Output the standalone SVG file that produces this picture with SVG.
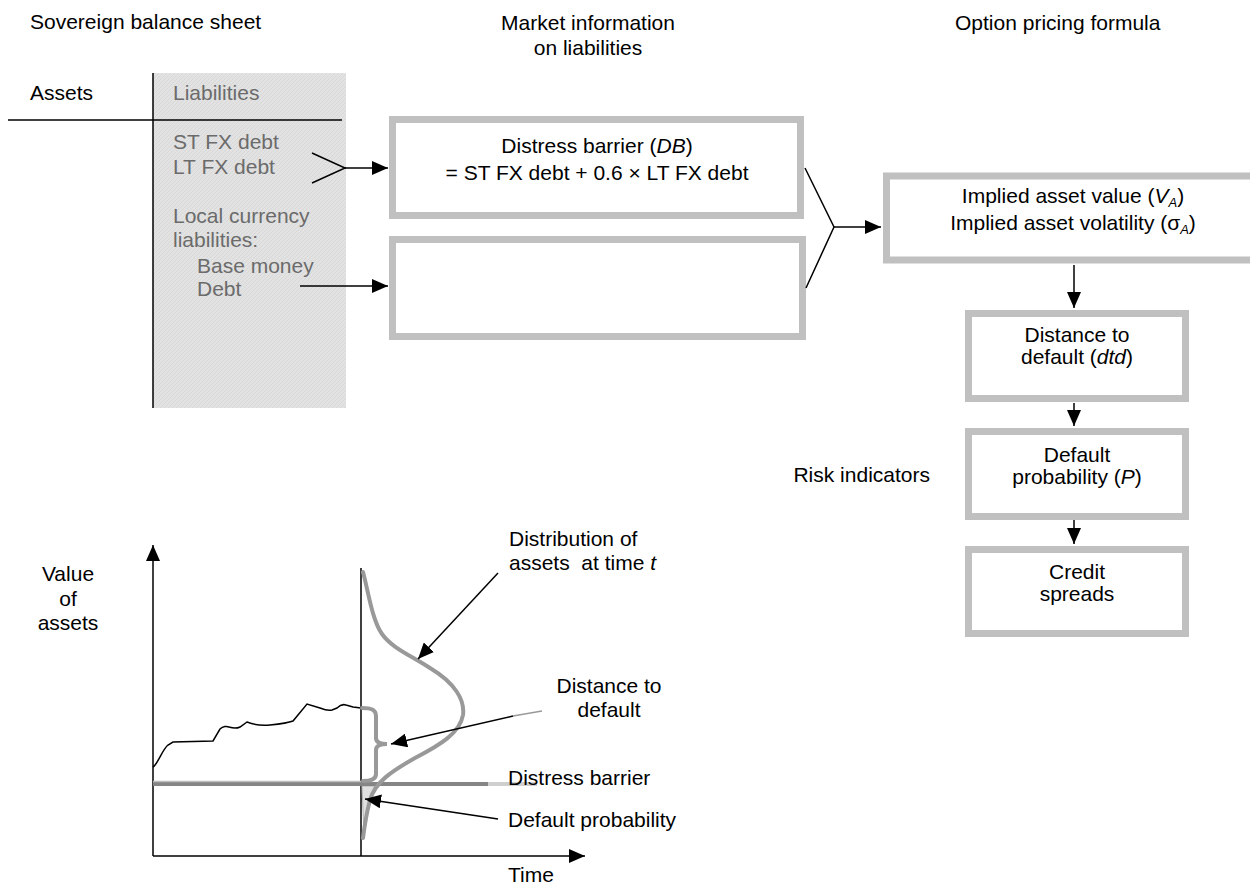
<svg xmlns="http://www.w3.org/2000/svg" width="1250" height="884" viewBox="0 0 1250 884">
<defs>
<style>
text{font-family:"Liberation Sans",Arial,sans-serif;font-size:21px;fill:#000}
.g{fill:#6b6b6b}
.c{text-anchor:middle}
.box{fill:#fff;stroke:#c0c0c0;stroke-width:7}
.ln{fill:none;stroke:#000;stroke-width:1.5}
.arr{fill:none;stroke:#000;stroke-width:1.5;marker-end:url(#ah)}
.gr{fill:none;stroke:#999;stroke-width:4;stroke-linecap:round}
</style>
<marker id="ah" markerUnits="userSpaceOnUse" markerWidth="16" markerHeight="14" refX="16" refY="7" orient="auto"><path d="M0,0 L16,7 L0,14 z" fill="#000"/></marker>
<pattern id="hatch" width="4" height="4" patternUnits="userSpaceOnUse"><rect width="4" height="4" fill="#e2e2e2"/><path d="M0,4 L4,0" stroke="#d8d8d8" stroke-width="1"/></pattern>
</defs>

<g id="titles">
<text x="30" y="29">Sovereign balance sheet</text>
<text class="c" x="588" y="30">Market information</text>
<text class="c" x="588" y="55">on liabilities</text>
<text x="955" y="30">Option pricing formula</text>
<text x="930" y="482" text-anchor="end">Risk indicators</text>
</g>

<g id="balance-sheet">
<rect x="153" y="73" width="193" height="335" fill="url(#hatch)"/>
<line x1="153" y1="73" x2="153" y2="408" stroke="#000" stroke-width="1.5"/>
<line x1="8" y1="120" x2="342" y2="120" stroke="#000" stroke-width="1.5"/>
<text x="30" y="100">Assets</text>
<text class="g" x="173" y="100">Liabilities</text>
<text class="g" x="173" y="149">ST FX debt</text>
<text class="g" x="173" y="174">LT FX debt</text>
<text class="g" x="173" y="223">Local currency</text>
<text class="g" x="173" y="247">liabilities:</text>
<text class="g" x="197" y="273">Base money</text>
<text class="g" x="197" y="296">Debt</text>
</g>

<g id="node-db">
<rect class="box" x="392.5" y="119.5" width="408" height="96"/>
<text class="c" x="597" y="153">Distress barrier (<tspan font-style="italic">DB</tspan>)</text>
<text class="c" x="597" y="180">= ST FX debt + 0.6 × LT FX debt</text>
</g>
<g id="node-empty">
<rect class="box" x="392.5" y="239.5" width="410" height="97"/>
</g>
<g id="node-implied">
<rect class="box" x="886.5" y="176" width="390" height="84"/>
<text class="c" x="1073" y="203">Implied asset value (<tspan font-style="italic">V</tspan><tspan font-style="italic" font-size="13" dy="4">A</tspan><tspan dy="-4">)</tspan></text>
<text class="c" x="1073" y="230">Implied asset volatility (σ<tspan font-style="italic" font-size="13" dy="4">A</tspan><tspan dy="-4">)</tspan></text>
</g>
<g id="node-dtd">
<rect class="box" x="968.5" y="313.5" width="217" height="85"/>
<text class="c" x="1077" y="342">Distance to</text>
<text class="c" x="1077" y="364">default (<tspan font-style="italic">dtd</tspan>)</text>
</g>
<g id="node-p">
<rect class="box" x="968.5" y="431.5" width="217" height="85"/>
<text class="c" x="1077" y="462">Default</text>
<text class="c" x="1077" y="484">probability (<tspan font-style="italic">P</tspan>)</text>
</g>
<g id="node-cs">
<rect class="box" x="968.5" y="549.5" width="217" height="84"/>
<text class="c" x="1077" y="579">Credit</text>
<text class="c" x="1077" y="601">spreads</text>
</g>

<g id="connectors">
<polyline class="ln" points="312,153 345,168 312,183"/>
<line class="arr" x1="345" y1="168" x2="388" y2="168"/>
<line class="arr" x1="300" y1="286" x2="388" y2="286"/>
<polyline class="ln" points="805,168 834,227 806,288"/>
<line class="arr" x1="834" y1="227" x2="881" y2="227"/>
<line class="arr" x1="1074" y1="265" x2="1074" y2="308"/>
<line class="arr" x1="1074" y1="403" x2="1074" y2="426"/>
<line class="arr" x1="1074" y1="520" x2="1074" y2="544"/>
</g>

<g id="chart">
<text class="c" x="68" y="581">Value</text>
<text class="c" x="68" y="606">of</text>
<text class="c" x="68" y="630">assets</text>
<line class="arr" x1="153" y1="856" x2="153" y2="545"/>
<line class="arr" x1="153" y1="856" x2="585" y2="856"/>
<text x="508" y="882">Time</text>
<line x1="361" y1="568" x2="361" y2="856" stroke="#000" stroke-width="1.5"/>
<polygon points="362,786 376,786 370,800 364,836" fill="#e0e0e0" stroke="#b0b0b0" stroke-width="1"/>
<line x1="153" y1="784" x2="488" y2="784" stroke="#858585" stroke-width="4"/>
<line x1="153" y1="781.5" x2="361" y2="781.5" stroke="#bdbdbd" stroke-width="1.5"/>
<line x1="488" y1="784" x2="537" y2="784" stroke="#cfcfcf" stroke-width="4"/>
<path d="M153,767 C158,764 162,750 168,745 L173,742 L213,741 L220,729 C223,726 227,726 229,727 C232,728 236,729 240,727 L247,722 C252,724 260,726 270,725 C280,724 288,723 293,721 L307,704 L320,708 C325,710 328,711 332,710 L337,708 C340,705 343,704 346,705 L353,707 L361,708" fill="none" stroke="#000" stroke-width="1.5"/>
<path class="gr" d="M363,572 C368,590 372,620 382,634 C392,648 410,655 430,668 C455,683 465,700 463,715 C460,733 440,745 415,758 C392,771 375,782 370,800 C366,815 364,830 363,838"/>
<path class="gr" d="M362,708 C372,708 376,710 376,716 L376,738 C376,742 380,744 387,744 C380,744 376,746 376,750 L376,774 C376,779 372,781 363,781"/>
<line class="arr" x1="498" y1="573" x2="418" y2="659"/>
<line x1="513" y1="716" x2="542" y2="711" stroke="#999" stroke-width="1.5"/>
<line class="arr" x1="513" y1="716" x2="391" y2="744"/>
<line class="arr" x1="498" y1="819" x2="365" y2="799"/>
<text x="509" y="546">Distribution of</text>
<text x="509" y="570" xml:space="preserve">assets  at time <tspan font-style="italic">t</tspan></text>
<text class="c" x="609" y="693">Distance to</text>
<text class="c" x="609" y="717">default</text>
<text x="508" y="785">Distress barrier</text>
<text x="508" y="827">Default probability</text>
</g>
</svg>
